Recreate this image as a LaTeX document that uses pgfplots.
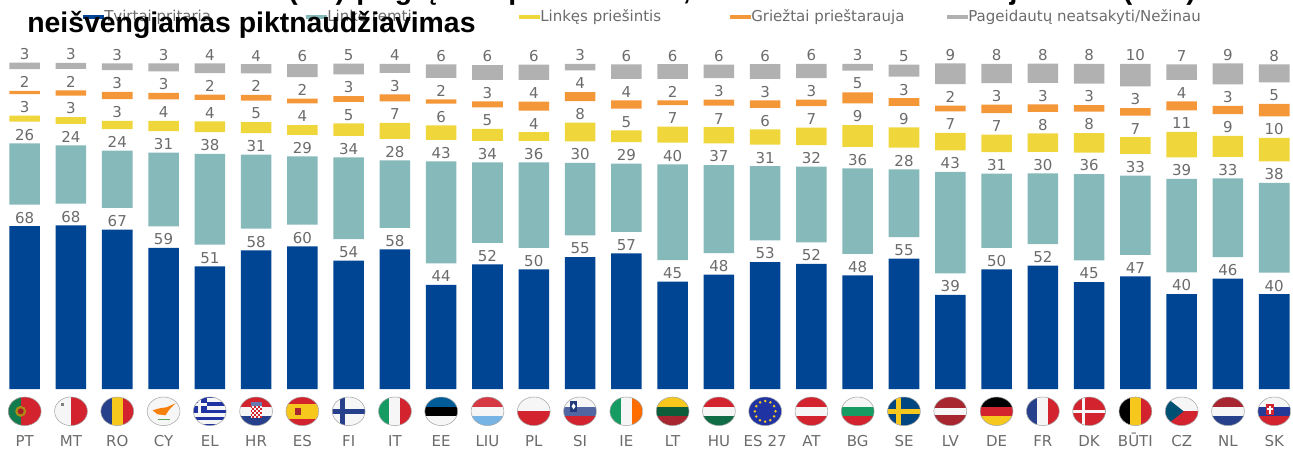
\documentclass[border=0pt]{standalone}
\usepackage{pgfplots}
\usepackage{pgfplotstable}
\pgfplotsset{compat=1.18}
\usepackage{fontspec}
\setmainfont{DejaVu Sans}
\newfontfamily\titlefont{Liberation Sans}
\definecolor{cb}{HTML}{004494}
\definecolor{ct}{HTML}{85B9BA}
\definecolor{cy}{HTML}{EFD63A}
\definecolor{co}{HTML}{F49738}
\definecolor{cg}{HTML}{B1B1B1}
\definecolor{txt}{HTML}{6B6B6B}
\definecolor{fred}{HTML}{D2232E}
\definecolor{fdred}{HTML}{A8262F}
\definecolor{fblue}{HTML}{27408B}
\definecolor{fgreen}{HTML}{169B62}
\definecolor{fyel}{HTML}{F6C81E}
\definecolor{fwh}{HTML}{F6F6F6}
\pgfplotstableread{
i  b    t    y    o   g   lb lt ly lo lg gap
0  68.2 25.7 2.5  1.4 2.8 68 26 3  2  3  9.04
1  68.6 24.4 2.8  2.2 2.5 68 24 3  2  3  9.04
2  66.8 24.0 3.5  3.1 2.9 67 24 3  3  3  9.04
3  59.1 30.9 4.2  2.7 3.4 59 31 4  3  3  9.04
4  51.4 38.1 4.5  2.2 4.1 51 38 4  2  4  9.04
5  58.1 31.0 4.6  2.4 3.8 58 31 5  2  4  9.04
6  59.8 28.6 4.1  2.0 5.4 60 29 4  2  6  9.04
7  53.8 34.2 5.2  2.4 4.6 54 34 5  3  5  9.04
8  58.5 28.2 6.7  2.9 3.8 58 28 7  3  4  9.04
9  43.6 42.7 6.1  1.8 5.6 44 43 6  2  6  9.04
10 52.2 33.7 5.0  2.5 6.1 52 34 5  3  6  9.04
11 50.1 35.8 3.6  3.8 6.4 50 36 4  4  6  9.04
12 55.3 30.4 7.8  3.8 2.8 55 30 8  4  3  9.04
13 56.8 28.6 4.9  3.5 6.0 57 29 5  4  6  9.04
14 45.0 40.1 6.7  2.0 6.1 45 40 7  2  6  9.04
15 47.9 36.9 6.8  2.5 5.6 48 37 7  3  6  9.04
16 53.2 31.1 6.4  3.1 6.1 53 31 6  3  6  9.04
17 52.4 31.7 7.3  2.7 5.9 52 32 7  3  6  9.04
18 47.6 35.8 9.1  4.7 2.8 48 36 9  5  3  9.04
19 54.6 28.4 8.5  3.2 5.0 55 28 9  3  5  9.04
20 39.4 42.5 7.3  2.4 8.7 39 43 7  2  9  9.04
21 50.1 31.1 7.3  3.5 8.1 50 31 7  3  8  9.04
22 51.7 29.6 7.7  3.1 8.1 52 30 8  3  8  9.04
23 44.8 36.2 8.1  2.7 8.2 45 36 8  3  8  9.04
24 47.2 33.2 7.0  3.2 9.4 47 33 7  3  10 9.04
25 39.8 39.2 10.6 3.8 6.4 40 39 11 4  7  9.04
26 46.2 33.0 8.8  3.5 8.8 46 33 9  3  9  9.04
27 39.7 37.6 9.8  5.2 7.5 40 38 10 5  8  9.04
}\data
% flag helpers, in pixels around the flag's centre
\newcommand\hthree[3]{\fill[#1] (-17,-15) rectangle (17,-4.77);\fill[#2] (-17,-4.77) rectangle (17,4.77);\fill[#3] (-17,4.77) rectangle (17,15);}
\newcommand\vthree[3]{\fill[#1] (-17,-15) rectangle (-5.47,15);\fill[#2] (-5.47,-15) rectangle (5.47,15);\fill[#3] (5.47,-15) rectangle (17,15);}
\newcommand\flag[2]{\begin{scope}[shift={({24.7+46.28*#1},411.3)}]
  \begin{scope}\clip (0,0) ellipse (16.4 and 14.3); #2 \end{scope}
  \draw[black!35,line width=.4pt] (0,0) ellipse (16.4 and 14.3);
\end{scope}}
\begin{document}
\begin{tikzpicture}
\clip (0,0) rectangle (969.75pt,337.5pt);
\begin{axis}[
  at={(0pt,45.75pt)}, anchor=south west,
  width=969.75pt, height=243.75pt, scale only axis, clip=false,
  xmin=-0.5337, xmax=27.4056, ymin=0, ymax=136.16,
  ybar stacked, bar width=22.9pt,
  axis line style={draw=none}, major tick length=0pt,
  ytick=\empty, xtick={0,...,27},
  xticklabels={PT,MT,RO,CY,EL,HR,ES,FI,IT,EE,LIU,PL,SI,IE,LT,HU,{ES 27},AT,BG,SE,LV,DE,FR,DK,BŪTI,CZ,NL,SK},
  xticklabel style={anchor=base, yshift=-42.75pt, font=\fontsize{11.25pt}{13pt}\selectfont, text=txt},
  seg/.style={draw=none},
  gapbar/.style={draw=none, fill=none, forget plot, point meta=explicit symbolic, nodes near coords,
    every node near coord/.append style={anchor=center, inner sep=0pt, yshift=-1.6pt,
      font=\fontsize{11.25pt}{13pt}\selectfont, text=txt}},
  legend columns=5,
  legend style={at={(0.0642,1.1446)}, anchor=west, draw=none, fill=none, inner sep=0pt,
    font=\fontsize{11.25pt}{13pt}\selectfont, text=txt,
    nodes={inner sep=0pt}, /tikz/every even column/.append style={column sep=0.75pt}},
  legend image code/.code={\fill[#1] (0pt,-1.15pt) rectangle (15.75pt,1.15pt);},
]
\addplot[seg, fill=cb] table[x=i,y=b] {\data};
\addlegendentry{\makebox[150.75pt][l]{Tvirtai pritaria}}
\addplot[gapbar] table[x=i,y=gap,meta=lb] {\data};
\addplot[seg, fill=ct] table[x=i,y=t] {\data};
\addlegendentry{\makebox[143.25pt][l]{Linkę remti}}
\addplot[gapbar] table[x=i,y=gap,meta=lt] {\data};
\addplot[seg, fill=cy] table[x=i,y=y] {\data};
\addlegendentry{\makebox[141.75pt][l]{Linkęs priešintis}}
\addplot[gapbar] table[x=i,y=gap,meta=ly] {\data};
\addplot[seg, fill=co] table[x=i,y=o] {\data};
\addlegendentry{\makebox[146.25pt][l]{Griežtai prieštarauja}}
\addplot[gapbar] table[x=i,y=gap,meta=lo] {\data};
\addplot[seg, fill=cg] table[x=i,y=g] {\data};
\addlegendentry{Pageidautų neatsakyti/Nežinau}
\addplot[gapbar] table[x=i,y=gap,meta=lg] {\data};
\end{axis}
% title: its first line is cut by the top edge, as in the reference
\begin{scope}[every node/.style={inner sep=0pt, anchor=base west, font=\titlefont\bfseries\fontsize{21.3pt}{26pt}\selectfont}]
\node at (20.3pt,313pt) {neišvengiamas piktnaudžiavimas};
\node at (216pt,337.5pt) {(ES)};
\node at (267pt,337.5pt) {p};
\node at (296pt,337.5pt) {g};
\node at (322pt,337.5pt) {į};
\node at (381pt,337.5pt) {p};
\node at (512pt,337.5pt) {,};
\node at (757pt,337.5pt) {j};
\node at (842pt,337.5pt) {(\hspace{6pt}ES\hspace{6pt})};
\end{scope}
% flags
\begin{scope}[shift={(0pt,337.5pt)}, x=0.75pt, y=-0.75pt]
\flag{0}{\fill[fred] (-17,-15) rectangle (17,15);\fill[fgreen!80!black] (-17,-15) rectangle (-4,15);\fill[fyel!70!black] (-4,0) circle (5.5);\fill[fred!80!black] (-4,0) circle (3);}
\flag{1}{\fill[fwh] (-17,-15) rectangle (0,15);\fill[fred] (0,-15) rectangle (17,15);\fill[gray] (-10,-8) rectangle (-7,-5);}
\flag{2}{\vthree{fblue}{fyel}{fred}}
\flag{3}{\fill[fwh] (-17,-15) rectangle (17,15);\fill[orange!85!brown] (-11,-1) -- (-4,-3) -- (3,-4) -- (12,-8) -- (6,-2) -- (2,4) -- (-6,3) -- cycle;\draw[gray!70!green,line width=.8pt] (-6,8) -- (6,8);}
\flag{4}{\fill[fwh] (-17,-15) rectangle (17,15);\foreach \s in {-14.4,-7.2,0,7.2,14.4}{\fill[fblue!80!blue] (-17,\s-1.6) rectangle (17,\s+1.6);}\fill[fblue!80!blue] (-17,-15) rectangle (-3,1.6);\fill[fwh] (-11.5,-15) rectangle (-8.5,1.6);\fill[fwh] (-17,-8.4) rectangle (-3,-5.4);}
\flag{5}{\hthree{fred}{fwh}{fblue}\fill[fwh] (-5.5,-5) rectangle (5.5,7);\foreach \a in {-5.5,-1.83,1.83}{\foreach \b in {-5,-1,3}{\fill[fred] (\a,\b) rectangle ++(1.83,2);\fill[fred] (\a+1.83,\b+2) rectangle ++(1.83,2);}}\fill[fblue!70!white] (-5.5,-9) rectangle (5.5,-5);}
\flag{6}{\fill[fred] (-17,-15) rectangle (17,15);\fill[fyel] (-17,-7.5) rectangle (17,7.5);\fill[fdred] (-7,-3.5) rectangle (-1,3.5);}
\flag{7}{\fill[fwh] (-17,-15) rectangle (17,15);\fill[fblue] (-17,-2.6) rectangle (17,2.6);\fill[fblue] (-8.5,-15) rectangle (-3.3,15);}
\flag{8}{\vthree{fgreen}{fwh}{fred}}
\flag{9}{\hthree{blue!40!cyan!60!black}{black}{fwh}}
\flag{10}{\hthree{fred!90!white}{fwh}{cyan!70!blue!55!white}}
\flag{11}{\fill[fwh] (-17,-15) rectangle (17,0);\fill[fred] (-17,0) rectangle (17,15);}
\flag{12}{\hthree{fwh}{fblue!80!white}{fred}\fill[fblue!90!black] (-10,-10) rectangle (-3,1);\fill[white] (-8.5,-5) -- (-6.5,-8) -- (-4.5,-5) -- (-6.5,-2) -- cycle;}
\flag{13}{\vthree{fgreen}{fwh}{orange!85!red}}
\flag{14}{\hthree{fyel}{fgreen!60!black}{fdred}}
\flag{15}{\hthree{fred}{fwh}{fgreen!70!black}}
\flag{16}{\fill[fblue!80!blue] (-17,-15) rectangle (17,15);\foreach \a in {0,30,...,330}{\fill[fyel] (\a:10.3) circle (1.4);}}
\flag{17}{\hthree{fred}{fwh}{fred}}
\flag{18}{\hthree{fwh}{fgreen}{fred}}
\flag{19}{\fill[blue!45!cyan!50!black] (-17,-15) rectangle (17,15);\fill[fyel] (-17,-2.6) rectangle (17,2.6);\fill[fyel] (-8,-15) rectangle (-2.8,15);}
\flag{20}{\fill[fdred] (-17,-15) rectangle (17,15);\fill[fwh] (-17,-3.5) rectangle (17,3.5);}
\flag{21}{\hthree{black}{fred}{fyel}}
\flag{22}{\vthree{fblue}{fwh}{fred}}
\flag{23}{\fill[fred] (-17,-15) rectangle (17,15);\fill[fwh] (-17,-1.6) rectangle (17,1.6);\fill[fwh] (-7,-15) rectangle (-3.8,15);}
\flag{24}{\vthree{black}{fyel}{fred}}
\flag{25}{\fill[fwh] (-17,-15) rectangle (17,0);\fill[fred] (-17,0) rectangle (17,15);\fill[blue!30!cyan!45!black] (-17,-15) -- (2,0) -- (-17,15) -- cycle;}
\flag{26}{\hthree{fdred}{fwh}{fblue}}
\flag{27}{\hthree{fwh}{fblue!90!blue}{fred}\fill[fred] (-8,-7) rectangle (0,4);\fill[white] (-5,-5) rectangle (-3,3);\fill[white] (-7,-3) rectangle (-1,-1);}
\end{scope}
\end{tikzpicture}
\end{document}
